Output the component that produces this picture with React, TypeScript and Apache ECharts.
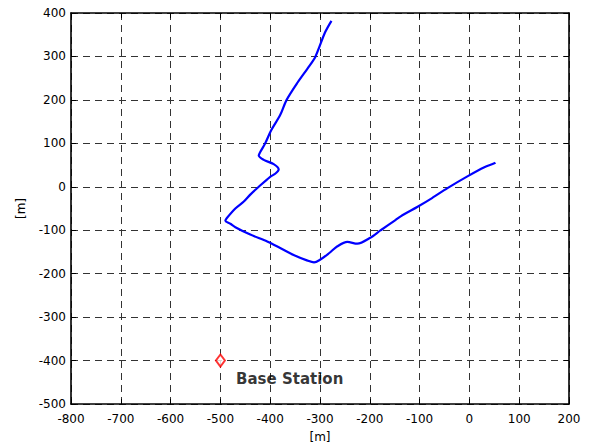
import React, { useEffect, useRef } from "react";
import * as echarts from "echarts";

const pathX = [-277, -290, -309, -322, -345, -367, -380, -398, -410, -420, -423, -413, -393, -383, -390, -400, -423, -440, -453, -470, -487, -490, -480, -470, -440, -406, -380, -353, -325, -312, -300, -282, -265, -245, -225, -200, -178, -150, -138, -104, -75, -44, -4, 30, 50, 52];
const pathY = [382, 355, 300, 277, 240, 200, 165, 130, 100, 80, 72, 62, 52, 40, 30, 23, 0, -18, -34, -50, -72, -78, -85, -93, -110, -126, -141, -157, -170, -174, -168, -153, -137, -127, -131, -118, -100, -78, -68, -46, -26, -3, 24, 45, 54, 56];

const stationX = [-500];
const stationY = [-400];
const stationLabel = "Base Station";
const axisName = "[m]";

const FONT = "DejaVu Sans";

export default function App() {
  const ref = useRef<HTMLDivElement>(null);
  useEffect(() => {
    if (!ref.current) return;
    const chart = echarts.init(ref.current, null, { renderer: "svg" });
    const gridLine = { show: true, lineStyle: { color: "#333", type: [7, 5] as any, width: 1 } };
    const axisLine = { show: true, onZero: false, lineStyle: { color: "#000", width: 1.6 } };
    const tick = { show: true, inside: true, length: 5, lineStyle: { color: "#000" } };
    chart.setOption({
      animation: false,
      backgroundColor: "#fff",
      grid: { left: 71, right: 20, top: 13, bottom: 44, containLabel: false },
      xAxis: [
        {
          type: "value", min: -800, max: 200, interval: 100, position: "bottom",
          name: axisName, nameLocation: "middle", nameGap: 27,
          nameTextStyle: { fontFamily: FONT, fontSize: 12, color: "#000" },
          axisLine, axisTick: tick, splitLine: gridLine,
          axisLabel: { fontFamily: FONT, fontSize: 12, color: "#000", margin: 9 },
        },
        {
          type: "value", min: -800, max: 200, interval: 100, position: "top",
          axisLine, axisTick: tick, splitLine: { show: false }, axisLabel: { show: false },
        },
      ],
      yAxis: [
        {
          type: "value", min: -500, max: 400, interval: 100, position: "left",
          name: axisName, nameLocation: "middle", nameGap: 44, nameRotate: 90,
          nameTextStyle: { fontFamily: FONT, fontSize: 12, color: "#000" },
          axisLine, axisTick: tick, splitLine: gridLine,
          axisLabel: { fontFamily: FONT, fontSize: 12, color: "#000", margin: 5 },
        },
        {
          type: "value", min: -500, max: 400, interval: 100, position: "right",
          axisLine, axisTick: tick, splitLine: { show: false }, axisLabel: { show: false },
        },
      ],
      series: [
        {
          type: "line",
          data: pathX.map((x, i) => [x, pathY[i]]),
          showSymbol: false,
          symbol: "none",
          lineStyle: { color: "#0000ff", width: 2.2 },
          smooth: 0.3,
          z: 3,
        },
        {
          type: "scatter",
          data: stationX.map((x, i) => [x, stationY[i]]),
          symbol: "diamond",
          symbolSize: [9, 12],
          itemStyle: { color: "#fff", borderColor: "#ff0000", borderWidth: 2 },
          label: {
            show: true,
            formatter: stationLabel,
            position: [21, 26],
            align: "left",
            verticalAlign: "middle",
            fontFamily: FONT,
            fontWeight: "bold",
            fontSize: 15,
            color: "#000",
          },
          z: 4,
        },
      ],
    });
    return () => chart.dispose();
  }, []);
  return <div ref={ref} style={{ width: 589, height: 448, position: "absolute", left: 0, top: 0 }} />;
}
